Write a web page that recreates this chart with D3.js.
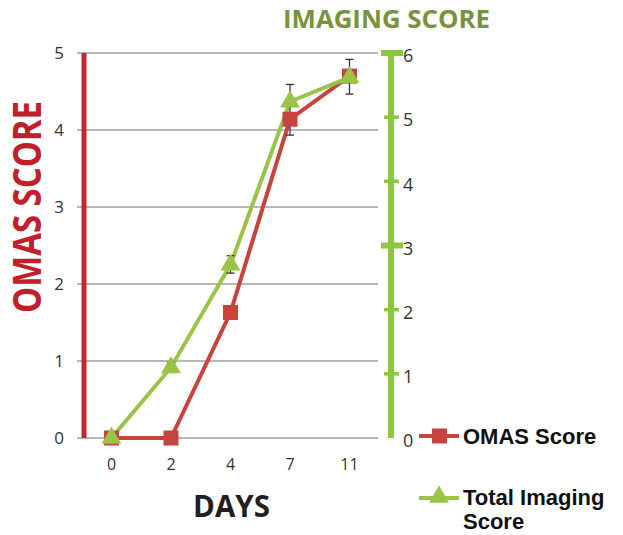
<!DOCTYPE html>
<html><head><meta charset="utf-8">
<script src="https://cdn.jsdelivr.net/npm/d3@7"></script>
<style>body{margin:0;background:#fff}svg{display:block}</style>
</head><body>
<script>
const days = ["0","2","4","7","11"];
const omas = [0, 0, 1.63, 4.14, 4.7];
const imaging = [0, 1.1, 2.7, 5.24, 5.62];
const imagingErrLow = [null, 1.05, 2.57, 4.72, 5.36];
const imagingErrHigh = [null, 1.18, 2.84, 5.51, 5.9];
const omasTicks = [0,1,2,3,4,5];
const imagingTicks = [0,1,2,3,4,5,6];
const imagingMajor = [0,3,6];

const W=623,H=535;
const svg=d3.select("body").append("svg").attr("width",W).attr("height",H);
const x=d3.scalePoint().domain(days).range([111.5,349.5]);
const yL=d3.scaleLinear().domain([0,5]).range([438,53]);
const yR=d3.scaleLinear().domain([0,6]).range([438,53]);
const font="'Open Sans', sans-serif";
const RED="#C9433E", GREEN="#9BC447";

// gridlines
svg.append("g").selectAll("line").data(omasTicks).join("line")
 .attr("x1",77).attr("x2",378).attr("y1",d=>yL(d)).attr("y2",d=>yL(d))
 .attr("stroke","#a0a0a4").attr("stroke-width",1.5);

// left axis line
svg.append("line").attr("x1",84).attr("x2",84).attr("y1",yL(5)).attr("y2",yL(0))
 .attr("stroke","#C1272D").attr("stroke-width",5);
svg.append("g").selectAll("text").data(omasTicks).join("text")
 .attr("x",64).attr("y",d=>yL(d)).attr("dy","0.35em").attr("text-anchor","end")
 .attr("font-family",font).attr("font-size",17).attr("fill","#333").text(d=>d);

// right axis
const gx=391;
svg.append("line").attr("x1",gx).attr("x2",gx).attr("y1",yR(6)-3).attr("y2",yR(0))
 .attr("stroke","#8DC63F").attr("stroke-width",6);
svg.append("g").selectAll("line").data(imagingTicks).join("line")
 .attr("x1",d=>imagingMajor.includes(d)?(d===0?gx:381):384)
 .attr("x2",d=>imagingMajor.includes(d)?(d===0?gx:403):399)
 .attr("y1",d=>yR(d)).attr("y2",d=>yR(d))
 .attr("stroke","#8DC63F").attr("stroke-width",d=>imagingMajor.includes(d)?6:3.5);
svg.append("g").selectAll("text").data(imagingTicks).join("text")
 .attr("x",403).attr("y",d=>yR(d)+3).attr("dy","0.35em")
 .attr("font-family",font).attr("font-size",18).attr("fill","#333").text(d=>d);

// x labels
svg.append("g").selectAll("text").data(days).join("text")
 .attr("x",d=>x(d)).attr("y",464).attr("dy","0.35em").attr("text-anchor","middle")
 .attr("font-family",font).attr("font-size",16).attr("fill","#333").text(d=>d);

// series lines
const lineL=d3.line().x((d,i)=>x(days[i])).y(d=>yL(d));
const lineR=d3.line().x((d,i)=>x(days[i])).y(d=>yR(d));
svg.append("path").attr("d",lineL(omas)).attr("fill","none").attr("stroke",RED).attr("stroke-width",4);
svg.append("path").attr("d",lineR(imaging)).attr("fill","none").attr("stroke",GREEN).attr("stroke-width",4);

// error bars
const eb=svg.append("g").attr("stroke","#333").attr("stroke-width",1.3);
imaging.forEach((d,i)=>{
  if(imagingErrLow[i]==null) return;
  const cx=x(days[i]), y1=yR(imagingErrHigh[i]), y2=yR(imagingErrLow[i]);
  eb.append("line").attr("x1",cx).attr("x2",cx).attr("y1",y1).attr("y2",y2);
  eb.append("line").attr("x1",cx-4).attr("x2",cx+4).attr("y1",y1).attr("y2",y1);
  eb.append("line").attr("x1",cx-4).attr("x2",cx+4).attr("y1",y2).attr("y2",y2);
});

// markers
svg.append("g").selectAll("rect").data(omas).join("rect")
 .attr("x",(d,i)=>x(days[i])-7.5).attr("y",d=>yL(d)-7.5).attr("width",15).attr("height",15).attr("fill",RED);
const tri=d3.symbol().type(d3.symbolTriangle).size(170);
svg.append("g").selectAll("path").data(imaging).join("path")
 .attr("d",tri).attr("transform",(d,i)=>`translate(${x(days[i])},${yR(d)})`).attr("fill",GREEN);

// titles
svg.append("text").attr("x",283).attr("y",28).attr("font-family",font).attr("font-weight",700)
 .attr("font-size",25).attr("fill","#77943C").attr("textLength",207).attr("lengthAdjust","spacingAndGlyphs").text("IMAGING SCORE");
svg.append("text").attr("transform","translate(41,207) rotate(-90)").attr("text-anchor","middle")
 .attr("font-family",font).attr("font-weight",700).attr("font-size",39).attr("fill","#C1202A")
 .attr("textLength",212).attr("lengthAdjust","spacingAndGlyphs").text("OMAS SCORE");
svg.append("text").attr("x",193).attr("y",517).attr("font-family",font).attr("font-weight",700)
 .attr("font-size",31).attr("fill","#231F20").attr("textLength",77).attr("lengthAdjust","spacingAndGlyphs").text("DAYS");

// legend
const lf="'Liberation Sans', Arial, sans-serif";
const lg=svg.append("g");
lg.append("line").attr("x1",419).attr("x2",459).attr("y1",436).attr("y2",436).attr("stroke",RED).attr("stroke-width",4);
lg.append("rect").attr("x",432).attr("y",428.5).attr("width",15).attr("height",15).attr("fill",RED);
lg.append("text").attr("x",463).attr("y",444).attr("font-family",lf).attr("font-weight",700)
 .attr("font-size",22).attr("fill","#111").text("OMAS Score");
lg.append("line").attr("x1",419).attr("x2",459).attr("y1",498).attr("y2",498).attr("stroke",GREEN).attr("stroke-width",4);
lg.append("path").attr("d",tri).attr("transform","translate(439,497)").attr("fill",GREEN);
lg.append("text").attr("x",463).attr("y",505).attr("font-family",lf).attr("font-weight",700)
 .attr("font-size",22).attr("fill","#111").text("Total Imaging");
lg.append("text").attr("x",463).attr("y",529).attr("font-family",lf).attr("font-weight",700)
 .attr("font-size",22).attr("fill","#111").text("Score");
</script>
</body></html>
